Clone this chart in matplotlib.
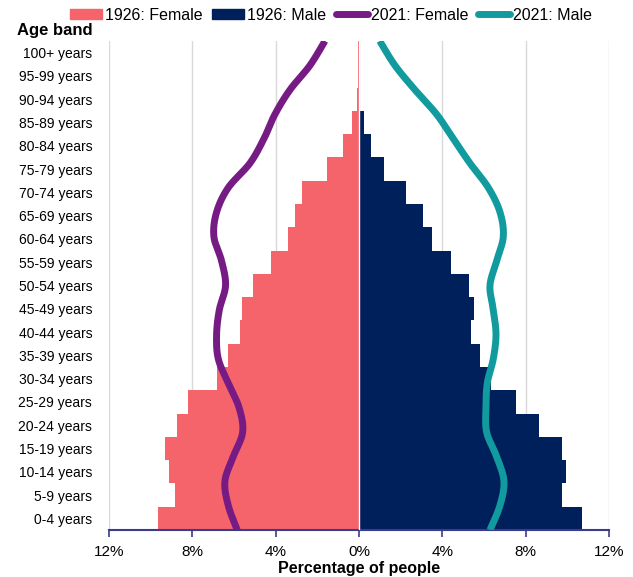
import numpy as np
import matplotlib.pyplot as plt
from matplotlib.patches import Patch
from matplotlib.lines import Line2D

plt.rcParams["font.family"] = ["Liberation Sans", "DejaVu Sans"]

age_bands = ["0-4 years", "5-9 years", "10-14 years", "15-19 years", "20-24 years",
             "25-29 years", "30-34 years", "35-39 years", "40-44 years", "45-49 years",
             "50-54 years", "55-59 years", "60-64 years", "65-69 years", "70-74 years",
             "75-79 years", "80-84 years", "85-89 years", "90-94 years", "95-99 years",
             "100+ years"]

# 1926 shares (%)
female_1926 = [9.66, 8.85, 9.12, 9.31, 8.74, 8.18, 6.83, 6.27, 5.73, 5.63,
               5.10, 4.24, 3.42, 3.07, 2.75, 1.55, 0.78, 0.32, 0.07, 0.02, 0.02]
male_1926 = [10.70, 9.74, 9.94, 9.74, 8.64, 7.54, 6.32, 5.81, 5.38, 5.52,
             5.30, 4.42, 3.52, 3.07, 2.26, 1.22, 0.58, 0.25, 0.02, 0.0, 0.0]

# 2021 shares (%)
female_2021 = [5.84, 6.27, 6.43, 6.03, 5.58, 5.75, 6.27, 6.75, 6.83, 6.70,
               6.40, 6.59, 6.96, 6.83, 6.27, 5.23, 4.56, 4.03, 3.31, 2.35, 1.63]
male_2021 = [6.29, 6.77, 6.96, 6.61, 6.13, 6.10, 6.16, 6.45, 6.58, 6.45,
             6.29, 6.61, 6.93, 6.77, 6.21, 5.33, 4.53, 3.73, 2.69, 1.73, 1.00]

c_female = "#F5646B"
c_male = "#00205C"
c_female21 = "#771B84"
c_male21 = "#129B9F"


def smooth(x, y, n=20):
    # Catmull-Rom style smoothing, like a spreadsheet "smoothed line"
    pts = np.column_stack([x, y])
    pts = np.vstack([pts[0], pts, pts[-1]])
    out = []
    t = np.linspace(0, 1, n, endpoint=False)
    for i in range(1, len(pts) - 2):
        p0, p1, p2, p3 = pts[i - 1], pts[i], pts[i + 1], pts[i + 2]
        for tt in t:
            out.append(0.5 * ((2 * p1) + (-p0 + p2) * tt
                              + (2 * p0 - 5 * p1 + 4 * p2 - p3) * tt ** 2
                              + (-p0 + 3 * p1 - 3 * p2 + p3) * tt ** 3))
    out.append(pts[-2])
    out = np.array(out)
    return out[:, 0], out[:, 1]


fig = plt.figure(figsize=(6.33, 5.77), dpi=100)
ax = fig.add_axes([0.172, 0.0815, 0.79, 0.8475])

ypos = np.arange(len(age_bands))
ax.barh(ypos, -np.array(female_1926), height=1.0, color=c_female, linewidth=0, zorder=2)
ax.barh(ypos, male_1926, height=1.0, color=c_male, linewidth=0, zorder=2)
ax.axvline(0, color="white", lw=1, zorder=3)

# line series sit on an "on tick marks" axis spanning the full plot height
yline = -0.5 + np.arange(len(age_bands)) * len(age_bands) / (len(age_bands) - 1)
fx, fy = smooth(-np.array(female_2021), yline)
mx, my = smooth(np.array(male_2021), yline)
ax.plot(fx, fy, color=c_female21, lw=5, solid_capstyle="butt", zorder=4)
ax.plot(mx, my, color=c_male21, lw=5, solid_capstyle="butt", zorder=4)

ax.set_xlim(-12, 12)
ax.set_ylim(-0.5, 20.5)
ticks = np.arange(-12, 13, 4)
ax.set_xticks(ticks)
ax.set_xticklabels([f"{abs(t)}%" for t in ticks], fontsize=11)
ax.set_yticks(ypos)
ax.set_yticklabels(age_bands, fontsize=10)
ax.tick_params(axis="y", length=0, pad=12)
ax.tick_params(axis="x", direction="out", length=5, width=1.2, color="#3B3B8C", pad=6)
ax.grid(axis="x", color="#D9D9D9", lw=1, zorder=0)
ax.set_axisbelow(True)
for s in ["top", "left", "right"]:
    ax.spines[s].set_visible(False)
ax.spines["bottom"].set_color("#3B3B8C")
ax.spines["bottom"].set_linewidth(1.5)
ax.set_xlabel("Percentage of people", fontsize=11.5, fontweight="bold", labelpad=1)

fig.text(0.027, 0.948, "Age band", fontsize=12, fontweight="bold", ha="left", va="center")

handles = [
    Patch(color=c_female, label="1926: Female"),
    Patch(color=c_male, label="1926: Male"),
    Line2D([], [], color=c_female21, lw=5, solid_capstyle="round", label="2021: Female"),
    Line2D([], [], color=c_male21, lw=5, solid_capstyle="round", label="2021: Male"),
]
fig.legend(handles=handles, loc="center", bbox_to_anchor=(0.523, 0.974), ncol=4,
           frameon=False, fontsize=11.5, handlelength=2.0, handleheight=0.6,
           handletextpad=0.2, columnspacing=0.6, borderaxespad=0)

fig.savefig("out.png", dpi=100)
